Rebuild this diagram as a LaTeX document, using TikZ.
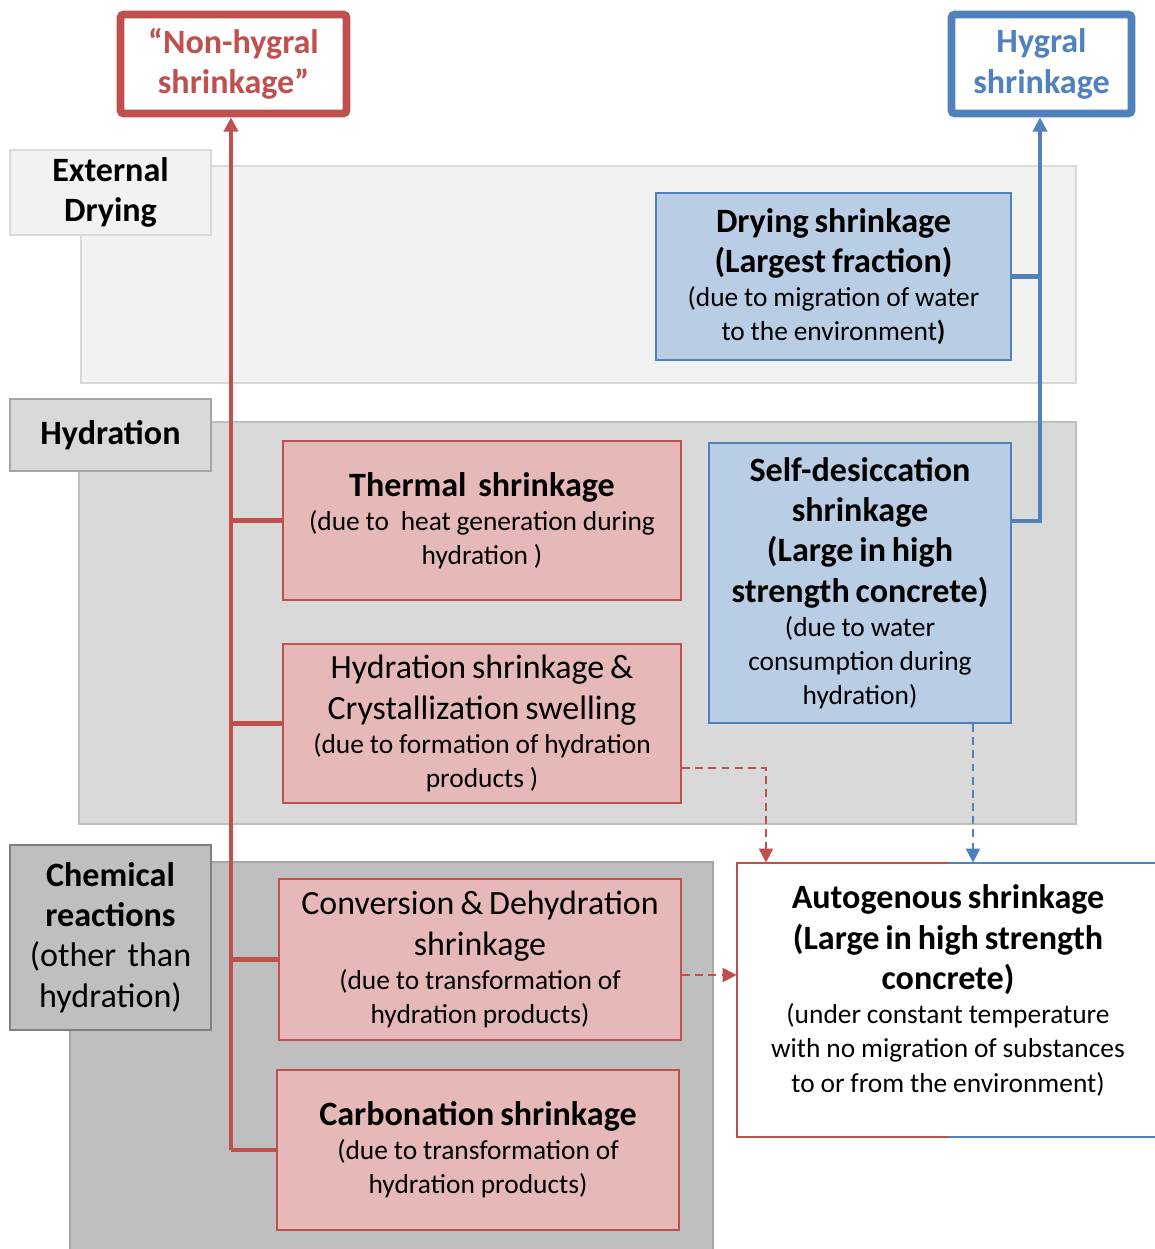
\documentclass[tikz,border=0pt]{standalone}
\usepackage{fontspec}
\setmainfont{Carlito}
\usetikzlibrary{arrows.meta, positioning, calc}
\definecolor{redln}{HTML}{C0504D}
\definecolor{pinkfl}{HTML}{E6B9B8}
\definecolor{blueln}{HTML}{4F81BD}
\definecolor{bluefl}{HTML}{B9CDE5}
\definecolor{pnlone}{HTML}{F2F2F2}
\definecolor{pnltwo}{HTML}{D9D9D9}
\definecolor{pnlthree}{HTML}{BFBFBF}
\definecolor{edgeone}{HTML}{D9D9D9}
\definecolor{edgetwo}{HTML}{BFBFBF}
\definecolor{edgethree}{HTML}{A6A6A6}
\definecolor{edgefour}{HTML}{808080}
\newcommand{\boxhead}{\fontsize{19.4}{23}\selectfont\bfseries}
\newcommand{\boxbig}{\fontsize{19.3}{23}\selectfont}
\newcommand{\boxnote}{\fontsize{15.6}{19.4}\selectfont}

\begin{document}
\begin{tikzpicture}[x=0.2mm, y=-0.2mm,
    tip/.style={-{Triangle[length=8pt, width=8pt]}},
    redline/.style={draw=redln, line width=2.3pt},
    blueline/.style={draw=blueln, line width=2.3pt},
    reddash/.style={draw=redln, line width=1.1pt, dash pattern=on 4.5pt off 3pt},
    bluedash/.style={draw=blueln, line width=1.1pt, dash pattern=on 4.5pt off 3pt},
    lbl/.style={text width=40.2mm, minimum width=40.2mm, align=center, inner sep=0pt, line width=0.9pt, font=\boxhead},
    pinkbox/.style={fill=pinkfl, draw=redln, line width=1.1pt, inner sep=0pt, align=center},
    bluebox/.style={fill=bluefl, draw=blueln, line width=1.1pt, inner sep=0pt, align=center},
    topbox/.style={fill=white, line width=4.5pt, rounded corners=2pt, inner sep=0pt, align=center, font=\boxhead}]
\useasboundingbox (0,0) rectangle (1154,1249);

% background bands
\filldraw[fill=pnlone, draw=edgeone, line width=0.9pt] (81,166) rectangle (1076,383);
\filldraw[fill=pnltwo, draw=edgetwo, line width=0.9pt] (79,422) rectangle (1076,824);
\filldraw[fill=pnlthree, draw=edgethree, line width=0.9pt] (70,862) rectangle (713,1262);

% band labels
\node[lbl, fill=pnlone, draw=edgeone, minimum height=17mm] (extlbl) at (110.5,192.5) {External\\Drying};
\node[lbl, fill=pnltwo, draw=edgethree, minimum height=14.4mm] (hydlbl) at (110.5,435) {Hydration};
\node[lbl, fill=pnlthree, draw=edgefour, minimum height=37mm] (chemlbl) at (110.5,937.5)
    {Chemical\\reactions\\{\mdseries(other than\\hydration)\par}};

% result boxes
\node[topbox, draw=redln, text=redln, minimum width=45.2mm, minimum height=19.8mm, text width=45.2mm] (nonhyg) at (233.5,64)
    {\rule{0pt}{4mm}“Non-hygral\\shrinkage”};
\node[topbox, draw=blueln, text=blueln, minimum width=36mm, minimum height=19.8mm, text width=36mm] (hygral) at (1041.5,64)
    {\rule{0pt}{4mm}Hygral\\shrinkage};

% mechanisms
\node[bluebox, minimum width=71mm, minimum height=33.4mm, text width=71mm] (drying) at (833.5,276.5)
    {{\boxhead Drying shrinkage\\(Largest fraction)\par}{\boxnote (due to migration of water\\to the environment\textbf{)}\par}};
\node[pinkbox, minimum width=79.6mm, minimum height=31.8mm, text width=79.6mm] (thermal) at (482,520.5)
    {{\boxhead Thermal\ \ shrinkage\par}{\boxnote (due to\ \ heat generation during\\hydration )\par}};
\node[pinkbox, minimum width=79.6mm, minimum height=31.8mm, text width=79.6mm] (hydr) at (482,723.5)
    {{\boxbig Hydration shrinkage \&\\Crystallization swelling\par}{\boxnote (due to formation of hydration\\products )\par}};
\node[bluebox, minimum width=60.4mm, minimum height=56mm, text width=60.4mm] (selfdes) at (860,583)
    {{\boxhead Self-desiccation\\shrinkage\\(Large in high\\strength concrete)\par}{\boxnote (due to water\\consumption during\\hydration)\par}};
\node[pinkbox, minimum width=80.4mm, minimum height=32.2mm, text width=80.4mm] (conv) at (480,959.5)
    {{\boxbig Conversion \& Dehydration\\shrinkage\par}{\boxnote (due to transformation of\\hydration products)\par}};
\node[pinkbox, minimum width=80.4mm, minimum height=32mm, text width=80.4mm] (carb) at (478,1150)
    {{\boxhead Carbonation shrinkage\par}{\boxnote (due to transformation of\\hydration products)\par}};
\node[fill=white, inner sep=0pt, align=center, minimum width=84.4mm, minimum height=54.8mm, text width=84.4mm] (autog) at (948,1000)
    {{\boxhead Autogenous shrinkage\\(Large in high strength\\concrete)\par}{\boxnote (under constant temperature\\with no migration of substances\\to or from the environment)\par}\rule{0pt}{3.5mm}};

% two-coloured frame of the autogenous box
\coordinate (amid) at (948,1000);
\draw[draw=redln, line width=1.1pt] (autog.north -| amid) -- (autog.north west) -- (autog.south west) -- (autog.south -| amid);
\draw[draw=blueln, line width=1.1pt] (autog.north -| amid) -- (autog.north east);
\draw[draw=blueln, line width=1.1pt] (autog.south -| amid) -- (autog.south east);

% non-hygral trunk
\coordinate (rtrunk) at (231,1150);
\draw[redline, tip] (carb.west -| rtrunk) -- (rtrunk |- nonhyg.south);
\draw[redline] (carb.west) -- (carb.west -| rtrunk);
\draw[redline] (conv.west) -- (conv.west -| rtrunk);
\draw[redline] (hydr.west) -- (hydr.west -| rtrunk);
\draw[redline] (thermal.west) -- (thermal.west -| rtrunk);

% hygral trunk
\coordinate (btrunk) at (1040,521);
\draw[blueline, tip] (selfdes.east |- btrunk) -- (btrunk) -- (btrunk |- hygral.south);
\draw[blueline] (drying.east) -- (drying.east -| btrunk);

% dashed links into autogenous
\coordinate (hturn) at (766,768);
\draw[reddash, tip] (hydr.east |- hturn) -- (hturn) -- (hturn |- autog.north);
\coordinate (cturn) at (681,975);
\draw[reddash, tip] (conv.east |- cturn) -- (cturn -| autog.west);
\coordinate (sdrop) at (973,723);
\draw[bluedash, tip] (sdrop |- selfdes.south) -- (sdrop |- autog.north);
\end{tikzpicture}
\end{document}
